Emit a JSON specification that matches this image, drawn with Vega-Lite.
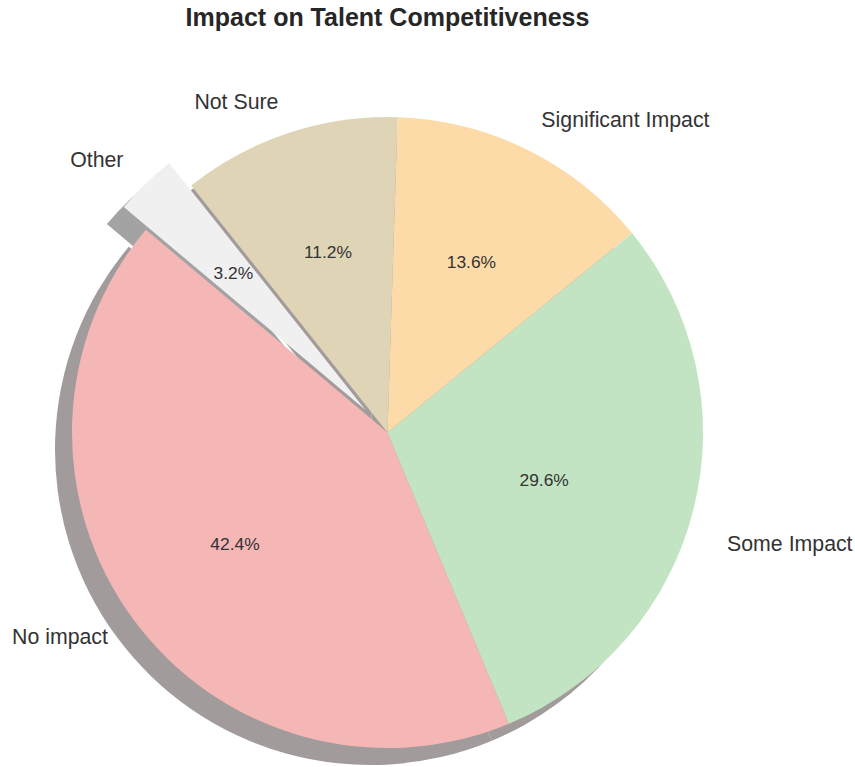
{
  "$schema": "https://vega.github.io/schema/vega-lite/v6.json",
  "width": 631,
  "height": 631,
  "autosize": {"type": "none"},
  "padding": {"left": 72, "top": 117, "right": 152, "bottom": 19},
  "background": "white",
  "config": {"view": {"stroke": null}},
  "title": {
    "text": "Impact on Talent Competitiveness",
    "font": "Liberation Sans",
    "fontSize": 25,
    "fontWeight": "bold",
    "color": "#262626",
    "anchor": "middle",
    "frame": "group",
    "baseline": "alphabetic",
    "offset": 18
  },
  "data": {
    "values": [
      {"label": "No impact", "share": 0.424},
      {"label": "Some Impact", "share": 0.296},
      {"label": "Significant Impact", "share": 0.136},
      {"label": "Not Sure", "share": 0.112},
      {"label": "Other", "share": 0.032}
    ]
  },
  "encoding": {
    "theta": {"field": "share", "type": "quantitative", "stack": true, "scale": {"range": [-0.87266, 5.41052]}},
    "order": {"field": "share", "sort": "ascending"}
  },
  "layer": [
    {
      "mark": {"type": "arc", "radius": 315.5, "xOffset": -17, "yOffset": 17, "fill": "#a29b9b"},
      "encoding": {"opacity": {"condition": {"test": "datum.label === 'Other'", "value": 0}, "value": 1}}
    },
    {
      "mark": {"type": "arc", "radius": 315.5, "xOffset": -39, "yOffset": -5.6, "fill": "#a3a3a3"},
      "encoding": {"opacity": {"condition": {"test": "datum.label === 'Other'", "value": 1}, "value": 0}}
    },
    {
      "mark": {"type": "arc", "radius": 315.5},
      "encoding": {
        "color": {"field": "label", "type": "nominal", "legend": null,
          "scale": {"domain": ["No impact", "Some Impact", "Significant Impact", "Not Sure", "Other"],
                    "range": ["#f5b6b6", "#c2e4c2", "#fddba8", "#dfd5b6", "#f0f0f0"]}},
        "opacity": {"condition": {"test": "datum.label === 'Other'", "value": 0}, "value": 1}
      }
    },
    {
      "mark": {"type": "arc", "radius": 315.5, "xOffset": -22, "yOffset": -22.6},
      "encoding": {
        "color": {"field": "label", "type": "nominal", "legend": null},
        "opacity": {"condition": {"test": "datum.label === 'Other'", "value": 1}, "value": 0}
      }
    },
    {
      "mark": {"type": "text", "radius": 189.3, "font": "Liberation Sans", "fontSize": 17.4, "color": "#333333", "align": "center", "baseline": "middle"},
      "encoding": {
        "text": {"condition": {"test": "datum.label !== 'Other' && datum.label !== 'Some Impact'", "field": "share", "type": "quantitative", "format": ".1%"}, "value": ""}
      }
    },
    {
      "mark": {"type": "text", "radius": 189.3, "xOffset": -27, "yOffset": 2, "font": "Liberation Sans", "fontSize": 17.4, "color": "#333333", "align": "center", "baseline": "middle"},
      "encoding": {
        "text": {"condition": {"test": "datum.label === 'Some Impact'", "field": "share", "type": "quantitative", "format": ".1%"}, "value": ""}
      }
    },
    {
      "mark": {"type": "text", "radius": 189.3, "xOffset": -22, "yOffset": -22.6, "font": "Liberation Sans", "fontSize": 17.4, "color": "#333333", "align": "center", "baseline": "middle"},
      "encoding": {
        "text": {"condition": {"test": "datum.label === 'Other'", "field": "share", "type": "quantitative", "format": ".1%"}, "value": ""}
      }
    },
    {
      "mark": {"type": "text", "radius": 347, "font": "Liberation Sans", "fontSize": 21.3, "color": "#333333", "align": "right", "baseline": "middle"},
      "encoding": {
        "text": {"condition": {"test": "datum.label === 'No impact' || datum.label === 'Not Sure'", "field": "label", "type": "nominal"}, "value": ""}
      }
    },
    {
      "mark": {"type": "text", "radius": 347, "font": "Liberation Sans", "fontSize": 21.3, "color": "#333333", "align": "left", "baseline": "middle"},
      "encoding": {
        "text": {"condition": {"test": "datum.label === 'Significant Impact'", "field": "label", "type": "nominal"}, "value": ""}
      }
    },
    {
      "mark": {"type": "text", "radius": 347, "xOffset": 3, "yOffset": 28, "font": "Liberation Sans", "fontSize": 21.3, "color": "#333333", "align": "left", "baseline": "middle"},
      "encoding": {
        "text": {"condition": {"test": "datum.label === 'Some Impact'", "field": "label", "type": "nominal"}, "value": ""}
      }
    },
    {
      "mark": {"type": "text", "radius": 347, "xOffset": -22, "yOffset": -22.6, "font": "Liberation Sans", "fontSize": 21.3, "color": "#333333", "align": "right", "baseline": "middle"},
      "encoding": {
        "text": {"condition": {"test": "datum.label === 'Other'", "field": "label", "type": "nominal"}, "value": ""}
      }
    }
  ]
}
